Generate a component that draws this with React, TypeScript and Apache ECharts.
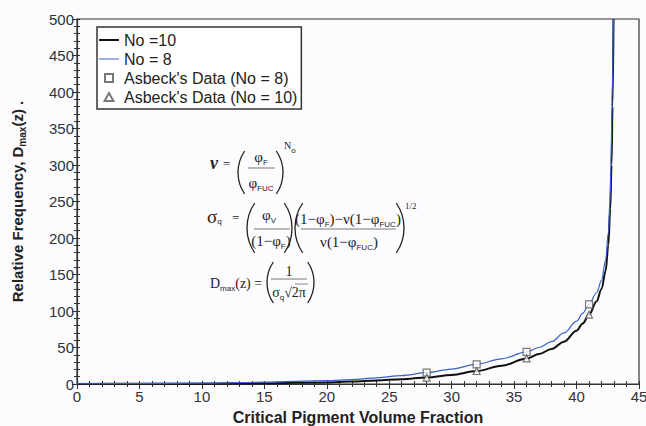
import React, { useEffect, useRef } from "react";
import * as echarts from "echarts";

// No = 10 (black curve)
const xNo10 = [0, 5, 10, 15, 20, 22, 24, 26, 28, 30, 32, 34, 36, 37, 38, 39, 40, 40.5, 41, 41.6, 42, 42.33, 42.54, 42.7, 42.8, 42.88, 42.96];
const yNo10 = [0.1, 0.2, 0.4, 0.9, 2.2, 3.3, 4.8, 6.6, 9, 12.5, 17.8, 25, 35, 41, 48, 58, 73, 83, 95, 113, 130, 155, 190, 240, 300, 380, 500];
// No = 8 (blue curve)
const xNo8 = [0, 5, 10, 15, 20, 22, 24, 26, 28, 30, 32, 34, 36, 37, 38, 39, 40, 40.5, 41, 41.6, 42, 42.33, 42.54, 42.68, 42.76, 42.85, 42.94];
const yNo8 = [0.3, 0.6, 1.2, 2.5, 4.5, 6, 8.5, 11.5, 15.5, 20.5, 27, 34.5, 44, 50, 58, 70, 86, 97, 109, 125, 142, 170, 207, 252, 305, 390, 500];
// Asbeck's data
const asbeckX = [28, 32, 36, 41];
const asbeckNo8 = [15.5, 27, 44, 109];
const asbeckNo10 = [8.6, 17.8, 35, 95];

const seriesNames = ["No =10", "No = 8", "Asbeck's Data (No = 8)", "Asbeck's Data (No = 10)"];

const zip = (xs: number[], ys: number[]) => xs.map((x, i) => [x, ys[i]]);

const INK = "#222";
const RICH: any = {
  s: { fontSize: 8, lineHeight: 9, verticalAlign: "bottom", fontFamily: "Liberation Sans", fill: INK },
};

function txt(x: number, y: number, text: string, size = 14, align = "left", extra: any = {}) {
  return {
    type: "text",
    x,
    y,
    silent: true,
    style: {
      text,
      x: 0,
      y: 0,
      fontFamily: "Liberation Serif",
      fontSize: size,
      lineHeight: 19,
      fill: INK,
      align,
      verticalAlign: "middle",
      rich: RICH,
      ...extra,
    },
  };
}

function hline(x1: number, x2: number, y: number, w = 1) {
  return { type: "line", silent: true, shape: { x1, y1: y, x2, y2: y }, style: { stroke: "#555", lineWidth: w } };
}

function paren(x: number, yTop: number, yBot: number, left: boolean) {
  const a = 0.6;
  const h = yBot - yTop;
  const r = h / 2 / Math.sin(a);
  const cy = (yTop + yBot) / 2;
  const cx = left ? x + r : x - r;
  return {
    type: "arc",
    silent: true,
    shape: {
      cx,
      cy,
      r,
      startAngle: left ? Math.PI - a : -a,
      endAngle: left ? Math.PI + a : a,
      clockwise: true,
    },
    style: { stroke: INK, lineWidth: 1.3, fill: "none" },
  };
}

export default function App() {
  const ref = useRef<HTMLDivElement>(null);

  useEffect(() => {
    document.body.style.margin = "0";
    const chart = echarts.init(ref.current!, null, { renderer: "svg" });

    const graphic: any[] = [
      // Formula 1: nu = (phiF/phiFUC)^No
      txt(210, 163, "ν", 18, "left", { fontStyle: "italic", fontWeight: "bold" }),
      txt(223, 163, "=", 13),
      paren(238, 151, 194, true),
      txt(261, 157, "φ{s|F}", 15, "center"),
      hline(248, 275, 168, 0.8),
      txt(261, 183, "φ{s|FUC}", 15, "center"),
      paren(283, 151, 194, false),
      txt(284, 145, "N{s|o}", 10),
      // Formula 2: sigma_q
      txt(207, 216, "σ{s|q}", 19),
      txt(232, 217, "=", 13),
      paren(247, 203, 253, true),
      txt(269, 215, "φ{s|V}", 15, "center"),
      hline(254, 290, 229, 0.8),
      txt(271, 241, "(1−φ{s|F})", 15, "center"),
      paren(292, 203, 253, false),
      paren(295, 203, 253, true),
      txt(348, 219, "(1−φ{s|F})−ν(1−φ{s|FUC})", 15, "center"),
      hline(301, 396, 229, 0.8),
      txt(349, 242, "ν(1−φ{s|FUC})", 15, "center"),
      paren(404, 203, 253, false),
      txt(405, 206, "1/2", 9),
      // Formula 3: Dmax(z)
      txt(210, 283, "D{s|max}(z) =", 14),
      paren(267, 262, 303, true),
      txt(289, 271, "1", 14, "center"),
      hline(271, 307, 279, 0.8),
      txt(289, 292, "σ{s|q}√2π", 14, "center"),
      hline(295, 308, 284, 0.7),
      paren(314, 262, 303, false),
    ];

    const option: any = {
      animation: false,
      backgroundColor: "#fcfcfe",
      grid: {
        left: 77,
        top: 19,
        right: 7,
        bottom: 42,
        outerBoundsMode: "none",
        containLabel: false,
        show: true,
        borderColor: "#333",
        borderWidth: 1.2,
        backgroundColor: "transparent",
      },
      legend: {
        orient: "vertical",
        left: 97,
        top: 27,
        padding: [4, 4, 3, 2],
        itemGap: 1,
        itemWidth: 20,
        itemHeight: 8,
        symbolKeepAspect: true,
        borderColor: "#333",
        borderWidth: 1.5,
        backgroundColor: "#fff",
        textStyle: { fontFamily: "Liberation Sans", fontSize: 16, color: INK, lineHeight: 18 },
        data: [
          { name: seriesNames[0], icon: "path://M0,0H20V2H0Z" },
          { name: seriesNames[1], icon: "path://M0,0H20V1H0Z" },
          { name: seriesNames[2], icon: "path://M0,0H10V10H0Z" },
          { name: seriesNames[3], icon: "path://M5,0L10,9L0,9Z" },
        ],
      },
      xAxis: [
        {
          type: "value",
          min: 0,
          max: 45,
          interval: 5,
          name: "Critical Pigment Volume Fraction",
          nameLocation: "middle",
          nameGap: 25,
          nameTextStyle: { fontFamily: "Liberation Sans", fontSize: 16, fontWeight: "bold", color: INK },
          axisLine: { show: true, onZero: false, lineStyle: { color: "#333", width: 1.2 } },
          axisTick: { show: true, inside: false, length: 5, lineStyle: { color: "#333" } },
          minorTick: { show: true, splitNumber: 5, length: 3, lineStyle: { color: "#333" } },
          axisLabel: { fontFamily: "Liberation Sans", fontSize: 15, color: "#333", margin: 5 },
          splitLine: { show: false },
        },
        {
          type: "value",
          position: "bottom",
          min: 0,
          max: 45,
          interval: 5,
          axisLine: { show: false },
          axisTick: { show: true, inside: true, length: 3, lineStyle: { color: "#333" } },
          minorTick: { show: true, splitNumber: 5, length: 3, lineStyle: { color: "#333" } },
          axisLabel: { show: false },
          splitLine: { show: false },
        },
      ],
      yAxis: [
        {
          type: "value",
          min: 0,
          max: 500,
          interval: 50,
          name: "Relative Frequency, D{s|max}(z) .",
          nameLocation: "middle",
          nameGap: 50,
          nameTextStyle: {
            fontFamily: "Liberation Sans",
            fontSize: 15,
            fontWeight: "bold",
            color: INK,
            lineHeight: 19,
            rich: { s: { fontSize: 10, lineHeight: 9, verticalAlign: "bottom", fontWeight: "bold", fontFamily: "Liberation Sans", color: INK } },
          },
          axisLine: { show: true, onZero: false, lineStyle: { color: "#333", width: 1.2 } },
          axisTick: { show: true, inside: false, length: 5, lineStyle: { color: "#333" } },
          minorTick: { show: true, splitNumber: 5, length: 3, lineStyle: { color: "#333" } },
          axisLabel: { fontFamily: "Liberation Sans", fontSize: 15, color: "#333", margin: 3 },
          splitLine: { show: false },
        },
        {
          type: "value",
          position: "left",
          min: 0,
          max: 500,
          interval: 50,
          axisLine: { show: false },
          axisTick: { show: true, inside: true, length: 3, lineStyle: { color: "#333" } },
          minorTick: { show: true, splitNumber: 5, length: 3, lineStyle: { color: "#333" } },
          axisLabel: { show: false },
          splitLine: { show: false },
        },
      ],
      series: [
        {
          name: seriesNames[0],
          type: "line",
          data: zip(xNo10, yNo10),
          symbol: "none",
          showSymbol: false,
          smooth: 0.35,
          smoothMonotone: "x",
          lineStyle: { color: "#111", width: 2 },
          itemStyle: { color: "#111" },
          z: 2,
        },
        {
          name: seriesNames[1],
          type: "line",
          data: zip(xNo8, yNo8),
          symbol: "none",
          showSymbol: false,
          smooth: 0.35,
          smoothMonotone: "x",
          lineStyle: { color: "#3a5fc8", width: 1.2 },
          itemStyle: { color: "#3a5fc8" },
          z: 3,
        },
        {
          name: seriesNames[2],
          type: "scatter",
          data: zip(asbeckX, asbeckNo8),
          symbol: "rect",
          symbolSize: 7,
          itemStyle: { color: "#fff", borderColor: "#555", borderWidth: 1.2 },
          z: 4,
        },
        {
          name: seriesNames[3],
          type: "scatter",
          data: zip(asbeckX, asbeckNo10),
          symbol: "triangle",
          symbolSize: 7,
          itemStyle: { color: "#fff", borderColor: "#555", borderWidth: 1.2 },
          z: 4,
        },
      ],
      graphic,
    };

    chart.setOption(option);
    return () => chart.dispose();
  }, []);

  return <div ref={ref} style={{ width: 646, height: 426 }} />;
}
